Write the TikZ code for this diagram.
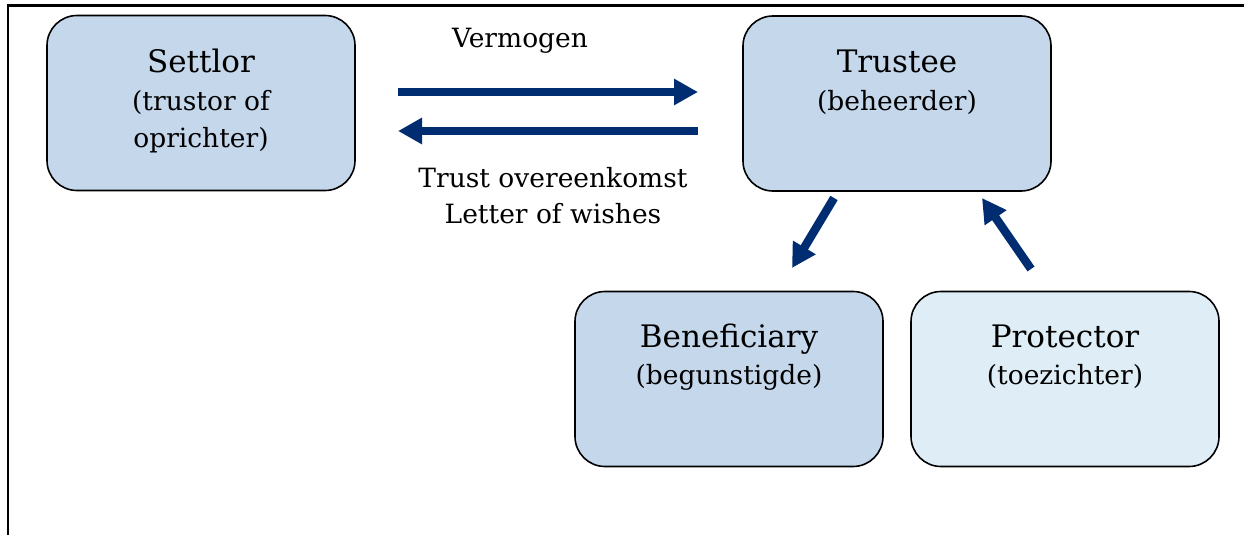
\documentclass[tikz,border=0pt]{standalone}
\usepackage{fontspec}
\setmainfont{DejaVu Serif}
\usetikzlibrary{arrows.meta}
\definecolor{boxblue}{HTML}{C5D7EB}
\definecolor{boxlight}{HTML}{DFEEF6}
\definecolor{navy}{HTML}{002D72}
\tikzset{
  box/.style={draw=black, line width=1.6pt, rounded corners=30pt, fill=boxblue,
    minimum width=308pt, minimum height=175pt, inner sep=0pt},
  big/.style={anchor=base, inner sep=0pt, font=\fontsize{31}{36}\selectfont},
  small/.style={anchor=base, inner sep=0pt, font=\fontsize{26.5}{32}\selectfont},
  flow/.style={draw=navy, line width=8.5pt, -{Triangle[length=24pt,width=25pt]}},
}
\begin{document}
\begin{tikzpicture}[x=1pt,y=-1pt]
\useasboundingbox (0,0) rectangle (1244,535);
\draw[line width=2.7pt] (8,535) -- (8,5.3) -- (1244,5.3);
% boxes
\node[box] (settlor) at (201,103) {};
\node[box] (trustee) at (897,103.5) {};
\node[box] (benef) at (729,379) {};
\node[box, fill=boxlight] (prot) at (1065,379) {};
% texts
\node[big] (t1) at (201,72) {Settlor};
\node[small] (t1a) at (201,110) {(trustor of};
\node[small] (t1b) at (201,147) {oprichter)};
\node[big] (t2) at (897,72) {Trustee};
\node[small] (t2a) at (897,110) {(beheerder)};
\node[big] (t3) at (729,347) {Beneficiary};
\node[small] (t3a) at (729,384) {(begunstigde)};
\node[big] (t4) at (1065,347) {Protector};
\node[small] (t4a) at (1065,384) {(toezichter)};
\node[small] (verm) at (520,48) {Vermogen};
\node[small] (tro) at (553,187) {Trust overeenkomst};
\node[small] (low) at (553,223) {Letter of wishes};
% arrow end points
\coordinate (a1s) at (398,92);
\coordinate (a1e) at (698,92);
\coordinate (a2s) at (698,131);
\coordinate (a2e) at (398,131);
\coordinate (a3s) at (834,198);
\coordinate (a3e) at (792,268);
\coordinate (a4s) at (1031,269);
\coordinate (a4e) at (982,198);
\draw[flow] (a1s) -- (a1e);
\draw[flow] (a2s) -- (a2e);
\draw[flow] (a3s) -- (a3e);
\draw[flow] (a4s) -- (a4e);
\end{tikzpicture}
\end{document}
